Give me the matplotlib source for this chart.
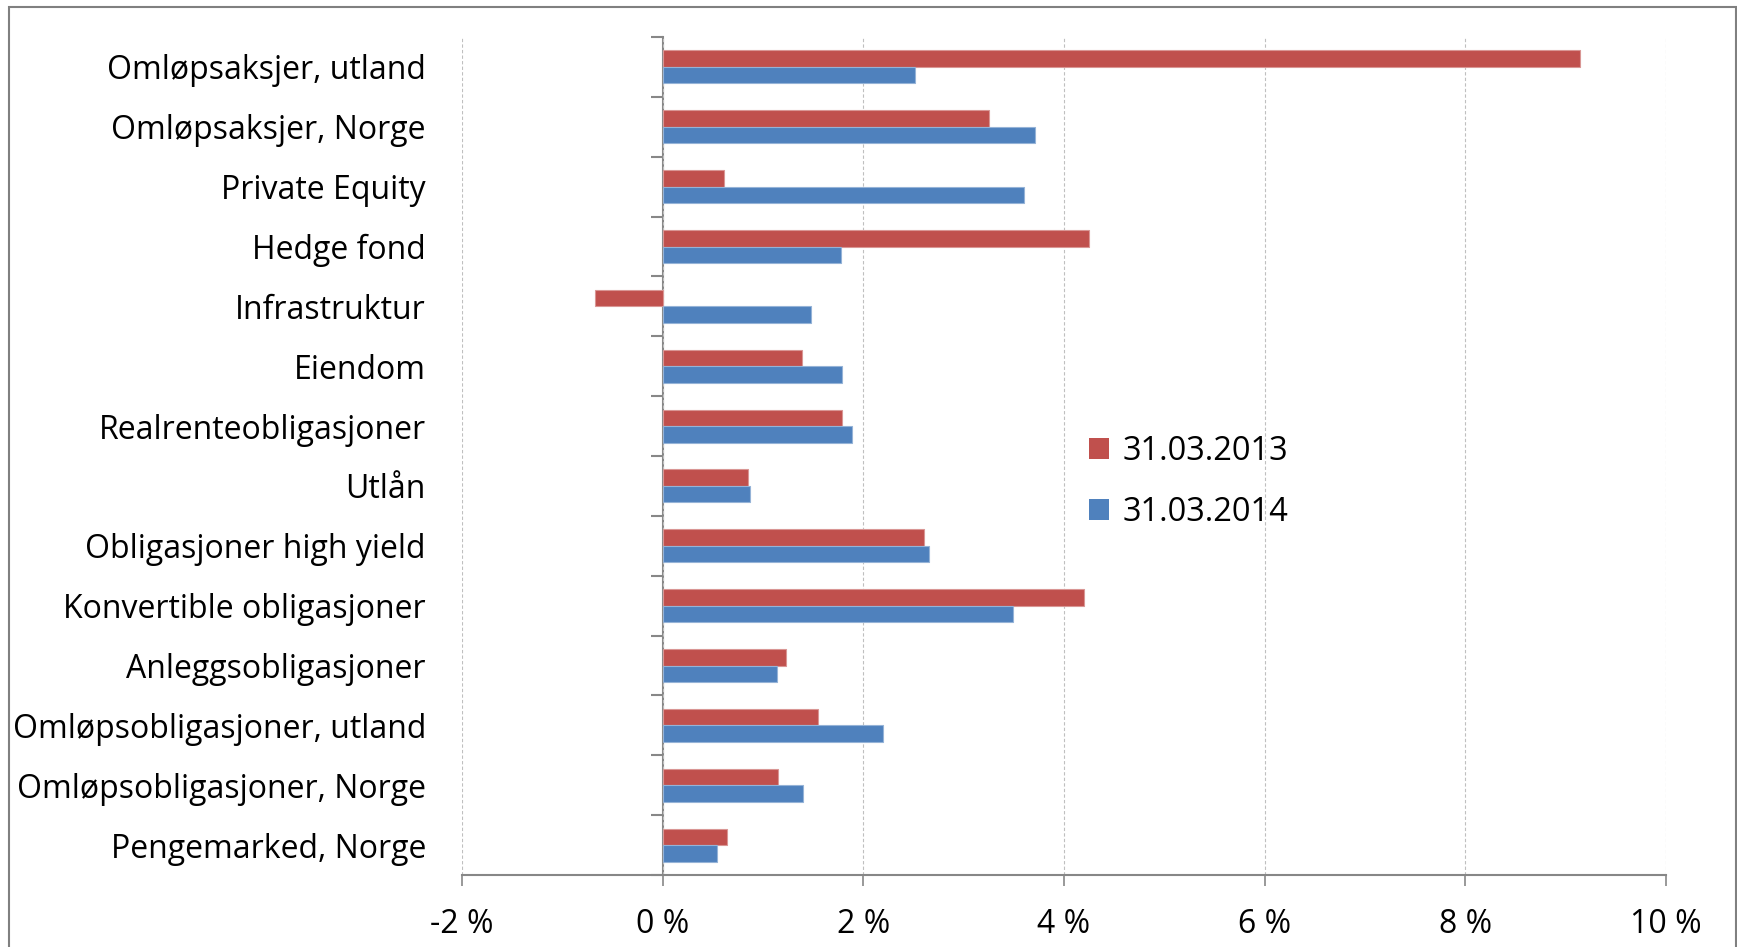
import matplotlib
matplotlib.use("Agg")
import matplotlib.pyplot as plt
import numpy as np
from matplotlib.patches import Patch, Rectangle
from matplotlib.ticker import FuncFormatter

categories = [
    "Omløpsaksjer, utland",
    "Omløpsaksjer, Norge",
    "Private Equity",
    "Hedge fond",
    "Infrastruktur",
    "Eiendom",
    "Realrenteobligasjoner",
    "Utlån",
    "Obligasjoner high yield",
    "Konvertible obligasjoner",
    "Anleggsobligasjoner",
    "Omløpsobligasjoner, utland",
    "Omløpsobligasjoner, Norge",
    "Pengemarked, Norge",
]
series_2013 = [9.14, 3.25, 0.61, 4.25, -0.67, 1.39, 1.79, 0.85, 2.60, 4.20, 1.23, 1.55, 1.15, 0.64]
series_2014 = [2.51, 3.71, 3.60, 1.78, 1.48, 1.79, 1.89, 0.87, 2.65, 3.49, 1.14, 2.20, 1.40, 0.54]
labels = ["31.03.2013", "31.03.2014"]
xticks = [-2, 0, 2, 4, 6, 8, 10]

plt.rcParams['font.family'] = ['Open Sans', 'DejaVu Sans']
FS = 23
LFS = 23.5

W, H = 1737, 947
fig = plt.figure(figsize=(W / 100, H / 100), dpi=100)
fig.patch.set_facecolor("white")

left, right, top, bottom = 462, 1666, 37, 875
ax = fig.add_axes([left / W, 1 - bottom / H, (right - left) / W, (bottom - top) / H])

red = "#C0504D"
blue = "#4F81BD"
gray = "#878787"

y = np.arange(len(categories))
h = 0.275
ax.barh(y - h / 2, series_2013, height=h, color=red, edgecolor="#D99694", linewidth=0.8, label=labels[0], zorder=3)
ax.barh(y + h / 2, series_2014, height=h, color=blue, edgecolor="#95B3D7", linewidth=0.8, label=labels[1], zorder=3)

ax.set_xlim(-2, 10)
ax.set_ylim(len(categories) - 0.5, -0.5)

ax.set_xticks(xticks)
ax.xaxis.set_major_formatter(FuncFormatter(lambda v, p: f"{int(round(v))} %"))
ax.tick_params(axis="x", direction="out", length=8, width=1.2, color=gray, pad=16, labelsize=FS)
ax.grid(axis="x", color="#BFBFBF", linestyle=(0, (3, 2)), linewidth=0.8, zorder=0)

ax.set_yticks(y)
ax.set_yticklabels(categories)
ax.tick_params(axis="y", length=0, pad=26, labelsize=FS)

for s in ["top", "right", "left"]:
    ax.spines[s].set_visible(False)
ax.spines["bottom"].set_color(gray)
ax.spines["bottom"].set_linewidth(1.5)

sec = ax.secondary_yaxis(2 / 12)
sec.set_yticks(np.arange(len(categories) + 1) - 0.5)
sec.set_yticklabels([])
sec.tick_params(axis="y", direction="out", length=8.5, width=1.5, color=gray)
sec.spines["left"].set_color(gray)
sec.spines["left"].set_linewidth(1.5)

handles = [Patch(facecolor=red, edgecolor="none"), Patch(facecolor=blue, edgecolor="none")]
leg = ax.legend(handles, labels, loc="center left", bbox_to_anchor=(1089 / W, 1 - 482 / H),
                bbox_transform=fig.transFigure, frameon=False, fontsize=LFS,
                handlelength=0.62, handleheight=0.62, handletextpad=0.4, labelspacing=0.85,
                borderpad=0, borderaxespad=0)

fig.patches.append(Rectangle((9 / W, -0.01), (1736 - 9) / W, 1 - 7 / H + 0.01,
                             transform=fig.transFigure, fill=False, edgecolor="#808080",
                             linewidth=1.5, zorder=10))

fig.savefig("out.png", dpi=100, facecolor="white")
